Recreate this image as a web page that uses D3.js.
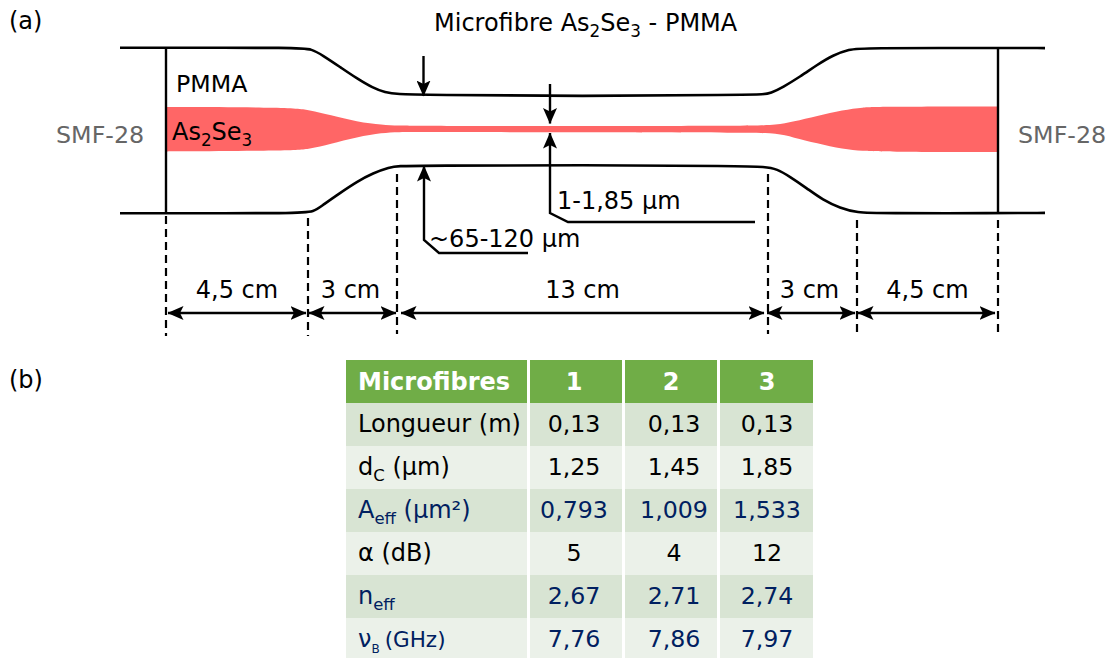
<!DOCTYPE html>
<html>
<head>
<meta charset="utf-8">
<script src="https://cdn.jsdelivr.net/npm/d3@7"></script>
<style>
  html, body { margin: 0; padding: 0; background: #fff; overflow: hidden; }
  svg { display: block; }
  text { font-family: "DejaVu Sans", sans-serif; }
</style>
</head>
<body>
<svg id="chart" width="1116" height="658"></svg>
<script>
// fibre sections, in cm along the fibre (stations between the dashed lines)
const stations = [0, 4.5, 7.5, 20.5, 23.5, 28];
const sectionLabels = ["4,5 cm", "3 cm", "13 cm", "3 cm", "4,5 cm"];

// outer PMMA walls: position in cm, height in sketch units above the fibre axis
const topWallPos = [-1.46, -1.46, 0, 4.2, 4.63, 5, 5.58, 6.15, 6.69, 7.1, 7.5, 8.5, 14, 19.5, 20.4, 20.57, 21, 21.58, 22.15, 22.69, 23.26, 23.6, 28, 29.5, 29.5];
const topWallVal = [82.8, 82.8, 82.8, 82.8, 81.5, 75, 63.5, 52, 42.5, 38, 36.2, 35.8, 34, 35.8, 36.2, 37.2, 43.2, 53.8, 65.5, 75.5, 81.2, 82.5, 82.6, 82.4, 82.4];
const botWallPos = [-1.46, -1.46, 0, 4.2, 4.7, 5, 5.58, 6.15, 6.69, 7.26, 7.5, 8.5, 14, 19.5, 20.4, 20.8, 21.24, 21.81, 22.35, 22.93, 23.5, 24.23, 28, 29.5, 29.5];
const botWallVal = [-82.8, -82.8, -82.8, -82.8, -81.5, -74.5, -62.5, -51.2, -42.5, -36.8, -35.5, -35.2, -34.5, -35.6, -36.2, -38.5, -46.2, -57.8, -69.5, -77.5, -82.2, -82.8, -82.6, -82.4, -82.4];

// As2Se3 core
const corePos = [0, 0, 3.93, 4.56, 5.24, 6.15, 7.03, 7.5, 8.5, 14, 19.9, 20.8, 21.34, 22.15, 23.03, 23.69, 24.23, 28, 28];
const coreTop = [23.5, 23.5, 23.2, 20.5, 15.5, 8.8, 5.5, 4.8, 4.6, 4.5, 4.5, 5.5, 8.8, 14.5, 20.5, 23.2, 23.8, 24, 24];
const coreBot = [-21, -21, -20.2, -18.5, -13.5, -6.5, -2.2, -1.5, -1.6, -1.8, -2.2, -2.8, -6.8, -12.8, -18.8, -20.5, -21.2, -21.5, -21.5];

// table
const headers = ["Microfibres", "1", "2", "3"];
const rowMain = ["Longueur (m)", "d", "A", "α (dB)", "n", "ν"];
const rowSub = ["", "C", "eff", "", "eff", "B"];
const rowTail = ["", " (µm)", " (µm²)", "", "", "(GHz)"];
const col1 = ["0,13", "1,25", "0,793", "5", "2,67", "7,76"];
const col2 = ["0,13", "1,45", "1,009", "4", "2,71", "7,86"];
const col3 = ["0,13", "1,85", "1,533", "12", "2,74", "7,97"];
const blueRows = [2, 4, 5];

const svg = d3.select("#chart");

const defs = svg.append("defs");
defs.append("marker")
    .attr("id", "head")
    .attr("viewBox", "0 0 16 14")
    .attr("refX", 15.5)
    .attr("refY", 7)
    .attr("markerUnits", "userSpaceOnUse")
    .attr("markerWidth", 16)
    .attr("markerHeight", 14)
    .attr("orient", "auto-start-reverse")
  .append("path")
    .attr("d", "M16,7 L0,0 L3.5,7 L0,14 Z")
    .attr("fill", "#000");

// piecewise, the sketch is not quite to scale
const x = d3.scaleLinear()
    .domain([-1.46, 0, 4.5, 7.5, 20.5, 23.5, 28, 29.5])
    .range([120, 166, 308, 397, 768, 857, 998, 1045]);
const y = d3.scaleLinear().domain([82.5, -82.5]).range([48, 213]);

const sketch = svg.append("g").attr("class", "sketch");

// core
const coreData = corePos.map((p, i) => ({p: p, t: coreTop[i], b: coreBot[i]}));
sketch.append("path")
    .datum(coreData)
    .attr("fill", "#ff6666")
    .attr("d", d3.area()
      .curve(d3.curveBasis)
      .x(d => x(d.p))
      .y0(d => y(d.b))
      .y1(d => y(d.t)));

// walls
const wall = d3.line()
    .curve(d3.curveBasis)
    .x(d => x(d.p))
    .y(d => y(d.v));

[[topWallPos, topWallVal], [botWallPos, botWallVal]].forEach(w => {
  sketch.append("path")
      .datum(w[0].map((p, i) => ({p: p, v: w[1][i]})))
      .attr("fill", "none")
      .attr("stroke", "#000")
      .attr("stroke-width", 2.6)
      .attr("d", wall);
});

// fibre splices
sketch.selectAll(".splice")
  .data([stations[0], stations[5]])
  .enter().append("line")
    .attr("class", "splice")
    .attr("x1", d => x(d))
    .attr("x2", d => x(d))
    .attr("y1", y(82.5))
    .attr("y2", y(-82.5))
    .attr("stroke", "#000")
    .attr("stroke-width", 2.4);

// dashed section limits
const dashTop = [216, 218, 174, 174, 220, 220];
const dashEnd = [336, 336, 334, 334, 336, 336];
sketch.selectAll(".limit")
  .data(stations)
  .enter().append("line")
    .attr("class", "limit")
    .attr("x1", d => x(d))
    .attr("x2", d => x(d))
    .attr("y1", (d, i) => dashTop[i])
    .attr("y2", (d, i) => dashEnd[i])
    .attr("stroke", "#000")
    .attr("stroke-width", 2.2)
    .attr("stroke-dasharray", "8,5");

// section lengths
const gapLeft = [2, 1, 4, -1, 1];
const gapRight = [2, 1, 4, 2, 3];
const labelShift = [0, -2, 0, -3, 0];
const dim = sketch.selectAll(".dim")
  .data(sectionLabels)
  .enter().append("g")
    .attr("class", "dim");

dim.append("line")
    .attr("x1", (d, i) => x(stations[i]) + gapLeft[i])
    .attr("x2", (d, i) => x(stations[i + 1]) - gapRight[i])
    .attr("y1", 313)
    .attr("y2", 313)
    .attr("stroke", "#000")
    .attr("stroke-width", 2.4)
    .attr("marker-start", "url(#head)")
    .attr("marker-end", "url(#head)");

dim.append("text")
    .attr("x", (d, i) => (x(stations[i]) + x(stations[i + 1])) / 2 + labelShift[i])
    .attr("y", 298)
    .attr("text-anchor", "middle")
    .attr("font-size", 24)
    .text(d => d);

// leader arrows
const leader = d3.line();
const leaders = [
  [[423.5, 56], [423.5, 96]],
  [[550, 84], [550, 123.5]],
  [[755, 222], [568, 222], [550, 213], [550, 133]],
  [[528, 253], [439, 253], [424, 240], [424, 166]]
];
sketch.selectAll(".leader")
  .data(leaders)
  .enter().append("path")
    .attr("class", "leader")
    .attr("fill", "none")
    .attr("stroke", "#000")
    .attr("stroke-width", 2.4)
    .attr("marker-end", "url(#head)")
    .attr("d", leader);

function label(sel, xp, yp, size, parts, color, anchor) {
  const t = sel.append("text")
      .attr("x", xp)
      .attr("y", yp)
      .attr("font-size", size)
      .attr("fill", color || "#000")
      .attr("text-anchor", anchor || "start");
  parts.forEach((p, i) => {
    const prev = i > 0 && parts[i - 1].sub;
    const s = t.append("tspan").text(p.t);
    if (p.size) s.attr("font-size", p.size);
    if (p.dx) s.attr("dx", p.dx);
    if (p.sub) {
      if (!p.size) s.attr("font-size", size * 0.7);
      s.attr("dy", size * 0.24);
    } else if (prev) {
      s.attr("dy", -size * 0.24);
    }
  });
  return t;
}

label(svg, 9, 29, 24, [{t: "(a)"}]);
label(svg, 9, 388, 24, [{t: "(b)"}]);
label(svg, 434, 31, 24, [{t: "Microfibre As"}, {t: "2", sub: true}, {t: "Se"}, {t: "3", sub: true}, {t: " - PMMA"}]);
label(svg, 176, 92, 23.7, [{t: "PMMA"}]);
label(svg, 172, 140, 24, [{t: "As"}, {t: "2", sub: true}, {t: "Se"}, {t: "3", sub: true}]);
label(svg, 56, 143, 23.8, [{t: "SMF-28"}], "#666");
label(svg, 1018, 143, 23.8, [{t: "SMF-28"}], "#666");
label(svg, 557, 209, 24, [{t: "1-1,85 µm"}]);
label(svg, 429, 247, 24, [{t: "~65-120 µm"}]);

// table b
const colEdges = [346, 530, 625, 720, 816];
const colTextX = [358, 574, 674, 767];
const headTextX = [358, 574, 671, 767];
const rowY = d3.scaleBand()
    .domain(d3.range(headers.length + rowMain.length - 3))
    .range([360, 661]);
const cols = [col1, col2, col3];

const table = svg.append("g").attr("class", "table");

headers.forEach((h, c) => {
  table.append("rect")
      .attr("x", colEdges[c])
      .attr("y", rowY(0))
      .attr("width", colEdges[c + 1] - colEdges[c] - 3)
      .attr("height", rowY.bandwidth())
      .attr("fill", "#70ad47");
  table.append("text")
      .attr("x", headTextX[c])
      .attr("y", rowY(0) + 30)
      .attr("font-size", 24)
      .attr("font-weight", "bold")
      .attr("fill", "#fff")
      .attr("text-anchor", c ? "middle" : "start")
      .text(h);
});

rowMain.forEach((m, r) => {
  const yy = rowY(r + 1);
  const ink = blueRows.includes(r) ? "#002060" : "#000";
  d3.range(4).forEach(c => {
    table.append("rect")
        .attr("x", colEdges[c])
        .attr("y", yy)
        .attr("width", colEdges[c + 1] - colEdges[c] - 3)
        .attr("height", rowY.bandwidth())
        .attr("fill", r % 2 ? "#ebf1e9" : "#d8e4d3");
  });
  const parts = [{t: m}];
  if (rowSub[r]) parts.push({t: rowSub[r], sub: true, size: r === 5 ? 12 : 16.5});
  if (rowTail[r]) parts.push({t: rowTail[r], size: r === 5 ? 21.5 : null, dx: r === 5 ? 5 : null});
  label(table, colTextX[0], yy + 29, 24, parts, ink);
  cols.forEach((col, c) => {
    label(table, colTextX[c + 1], yy + 29, 23.7, [{t: col[r]}], ink, "middle");
  });
});
</script>
</body>
</html>
